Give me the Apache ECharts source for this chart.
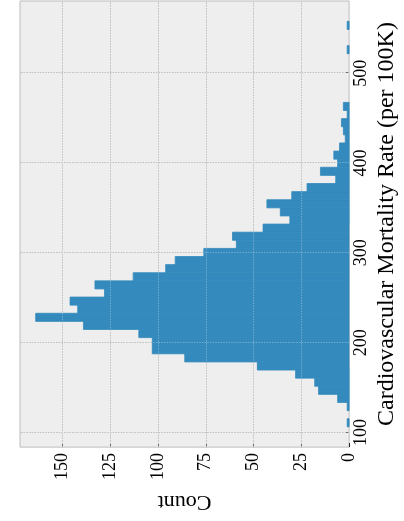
<!DOCTYPE html>
<html>
<head>
<meta charset="utf-8">
<script src="https://cdn.jsdelivr.net/npm/echarts@6/dist/echarts.min.js"></script>
<style>
  html, body { margin: 0; padding: 0; background: #ffffff; width: 404px; height: 521px; overflow: hidden; }
  #chart {
    position: absolute; left: 0; top: 0;
    width: 521px; height: 404px;
    transform-origin: 0 0;
    transform: translate(0, 521px) rotate(-90deg);
  }
</style>
</head>
<body>
<div id="chart"></div>
<script>
// Histogram data
const binStart = 106.3;
const binWidth = 9.03;
const counts = [1,0,1,6,16,18,28,48,86,103,
                103,110,139,164,142,146,128,133,113,96,
                91,76,59,61,45,31,36,43,30,22,
                7,15,6,8,5,2,3,4,1,3,
                0,0,0,0,0,0,1,0,0,1];
const rateTicks = [100, 200, 300, 400, 500];
const countTicks = [0, 25, 50, 75, 100, 125, 150];
const rateRange = [83.7, 580.4];
const countMax = 172.2;
const xTitle = 'Cardiovascular Mortality Rate (per 100K)';
const yTitle = 'Count';

const bars = [];
counts.forEach((c, i) => {
  if (c > 0) bars.push([binStart + i * binWidth, binStart + (i + 1) * binWidth, c]);
});

const font = 'Liberation Serif';
const dash = [1.5, 1.2];
const gridData = rateTicks.map(v => ({ xAxis: v }))
  .concat(countTicks.filter(v => v > 0).map(v => ({ yAxis: v })));

const chart = echarts.init(document.getElementById('chart'), null, { renderer: 'canvas' });
chart.setOption({
  animation: false,
  backgroundColor: '#ffffff',
  grid: {
    left: 72, right: 1, top: 20, bottom: 49,
    show: true, backgroundColor: '#eeeeee', borderColor: '#bcbcbc', borderWidth: 1
  },
  xAxis: {
    type: 'value', min: rateRange[0], max: rateRange[1],
    name: xTitle, nameLocation: 'middle', nameGap: 24,
    nameTextStyle: { fontFamily: font, fontSize: 24, color: '#000' },
    axisLine: { show: false },
    axisTick: { show: true, inside: true, length: 4, customValues: rateTicks, lineStyle: { color: '#222', width: 1 } },
    axisLabel: { customValues: rateTicks, fontFamily: font, fontSize: 18, color: '#000', margin: 3 },
    splitLine: { show: false }
  },
  yAxis: {
    type: 'value', min: 0, max: countMax,
    name: yTitle, nameLocation: 'middle', nameGap: 42,
    nameTextStyle: { fontFamily: font, fontSize: 22, color: '#000' },
    axisLine: { show: false },
    axisTick: { show: true, inside: true, length: 4, customValues: countTicks, lineStyle: { color: '#222', width: 1 } },
    axisLabel: { customValues: countTicks, fontFamily: font, fontSize: 18, color: '#000', margin: 6 },
    splitLine: { show: false }
  },
  series: [
    {
      type: 'line', data: [], silent: true,
      markLine: {
        silent: true, symbol: 'none', label: { show: false }, z: 1, animation: false,
        lineStyle: { color: '#a8a8a8', width: 1, type: dash },
        data: gridData
      }
    },
    {
      type: 'custom',
      z: 3,
      data: bars,
      encode: { x: [0, 1], y: 2 },
      renderItem: function (params, api) {
        const p0 = api.coord([api.value(0), api.value(2)]);
        const p1 = api.coord([api.value(1), 0]);
        return {
          type: 'rect',
          shape: { x: p0[0], y: p0[1], width: p1[0] - p0[0], height: p1[1] - p0[1] },
          style: { fill: '#348ABD', stroke: '#348ABD', lineWidth: 0.8 }
        };
      },
      markLine: {
        silent: true, symbol: 'none', label: { show: false }, z: 10, animation: false,
        lineStyle: { color: 'rgba(255,255,255,0.3)', width: 1, type: dash },
        data: gridData
      }
    }
  ]
});
</script>
</body>
</html>
